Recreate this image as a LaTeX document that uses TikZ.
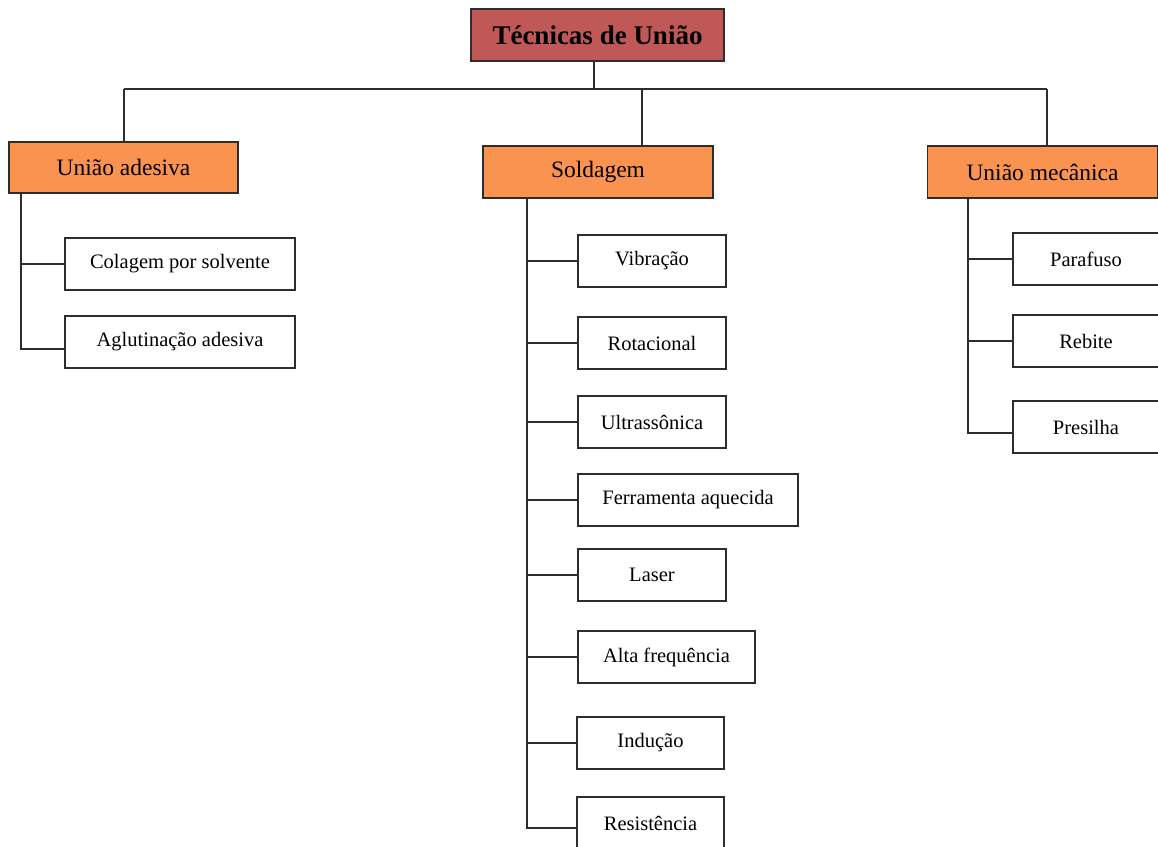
\documentclass[tikz,border=0pt]{standalone}
\usepackage{fontspec}
\setmainfont{Liberation Serif}
\definecolor{titlered}{RGB}{192,88,88}
\definecolor{catorange}{RGB}{250,146,80}
\definecolor{edge}{RGB}{45,45,45}
\begin{document}
\begin{tikzpicture}[x=1pt,y=-1pt,
  box/.style={draw=edge,line width=1.3pt,inner sep=0pt,minimum height=52pt,align=center},
  titlebox/.style={box,fill=titlered,font=\fontsize{27}{30}\selectfont\bfseries},
  catbox/.style={box,fill=catorange,font=\fontsize{23.5}{26}\selectfont},
  leaf/.style={box,fill=white,font=\fontsize{20.5}{24}\selectfont},
  conn/.style={draw=edge,line width=1.3pt}]
\useasboundingbox (0,0) rectangle (1158,846);
\clip (0,0) rectangle (1158,846);
\fill[white] (0,0) rectangle (1158,846);
% title
\node[titlebox,minimum width=253pt] (title) at (597.5,35) {Técnicas de União};
% categories
\node[catbox,minimum width=229pt,minimum height=51pt] (ades) at (123.5,167.5) {União adesiva};
\node[catbox,minimum width=230pt] (sold) at (598,172) {Soldagem};
\node[catbox,minimum width=230pt] (mec) at (1042.5,172) {União mecânica};
% bus
\coordinate (busT) at (594,89);
\coordinate (busL) at (124,89);
\coordinate (busS) at (642,89);
\coordinate (busR) at (1047,89);
\draw[conn] (busT |- title.south) -- (busT);
\draw[conn] (busL) -- (busR);
\draw[conn] (busL) -- (busL |- ades.north);
\draw[conn] (busS) -- (busS |- sold.north);
\draw[conn] (busR) -- (busR |- mec.north);
% adesiva children
\node[leaf,minimum width=230pt] (cola) at (180,264) {Colagem por solvente};
\node[leaf,minimum width=230pt] (aglu) at (180,342) {Aglutinação adesiva};
\coordinate (trunkA) at (21,193);
\draw[conn] (trunkA) |- (cola.west);
\draw[conn] (trunkA) |- ([yshift=-7pt]aglu.west);
% soldagem children
\node[leaf,minimum width=148pt] (vib) at (652,261) {Vibração};
\node[leaf,minimum width=148pt] (rot) at (652,343) {Rotacional};
\node[leaf,minimum width=148pt] (ultra) at (652,422) {Ultrassônica};
\node[leaf,minimum width=220pt] (ferr) at (688,500) {Ferramenta aquecida};
\node[leaf,minimum width=148pt] (laser) at (652,575) {Laser};
\node[leaf,minimum width=177pt] (alta) at (666.5,657) {Alta frequência};
\node[leaf,minimum width=147pt] (indu) at (650.5,743) {Indução};
\node[leaf,minimum width=147pt] (resi) at (650.5,823) {Resistência};
\coordinate (trunkS) at (527,198);
\foreach \n in {vib,rot,ultra,ferr,laser,alta,indu}
  \draw[conn] (trunkS) |- (\n.west);
\draw[conn] (trunkS) |- ([yshift=-5pt]resi.west);
% mecanica children
\node[leaf,minimum width=146pt] (para) at (1086,259) {Parafuso};
\node[leaf,minimum width=146pt] (rebi) at (1086,341) {Rebite};
\node[leaf,minimum width=146pt] (pres) at (1086,427) {Presilha};
\coordinate (trunkM) at (968,198);
\draw[conn] (trunkM) |- (para.west);
\draw[conn] (trunkM) |- (rebi.west);
\draw[conn] (trunkM) |- ([yshift=-6pt]pres.west);
\end{tikzpicture}
\end{document}
